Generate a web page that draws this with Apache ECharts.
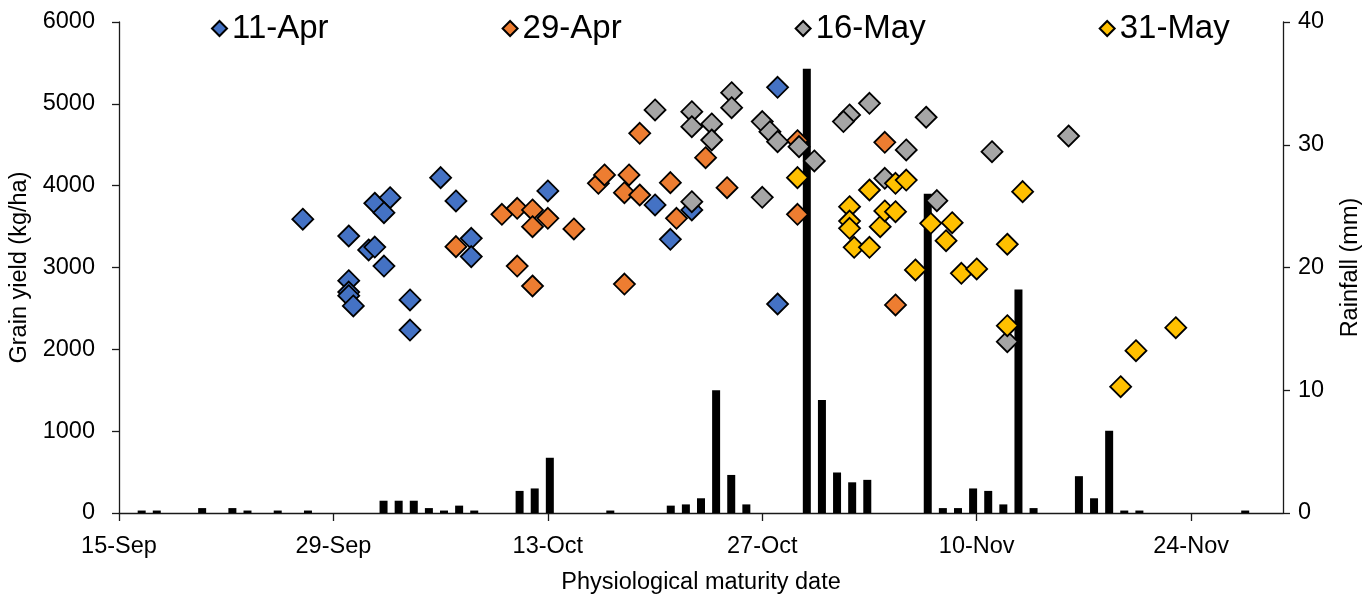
<!DOCTYPE html>
<html>
<head>
<meta charset="utf-8">
<title>Grain yield and rainfall vs physiological maturity date</title>
<script src="https://cdn.jsdelivr.net/npm/echarts@6/dist/echarts.min.js"></script>
<style>
  html, body { margin: 0; padding: 0; background: #fff; }
  #chart { width: 1370px; height: 600px; }
</style>
</head>
<body>
<div id="chart"></div>
<script>
// x values are days after 15-Sep (physiological maturity date)
const START = { month: 8, day: 15 }; // 15-Sep
const MONTHS = ['Jan','Feb','Mar','Apr','May','Jun','Jul','Aug','Sep','Oct','Nov','Dec'];
const X_MAX_DAY = 76;              // 30-Nov
const X_TICKS = [0, 14, 28, 42, 56, 70];

// Sowing 11-Apr
const apr11Day   = [12.0, 15.0, 16.7, 17.7, 17.3, 16.3, 16.7, 17.3, 15.0, 15.0, 15.0, 15.3, 19.0, 19.0, 21.0, 22.0, 23.0, 23.0, 28.0, 35.0, 37.4, 36.0, 43.0, 43.0];
const apr11Yield = [3590, 3385, 3785, 3853, 3670, 3214, 3250, 3018, 2839, 2700, 2655, 2530, 2603, 2236, 4098, 3813, 3357, 3133, 3935, 3764, 3703, 3344, 5202, 2554];

// Sowing 29-Apr
const apr29Day   = [22.0, 25.0, 26.0, 27.0, 28.0, 27.0, 29.7, 26.0, 27.0, 31.3, 31.7, 33.3, 33.0, 34.0, 36.0, 38.3, 39.7, 33.0, 36.4, 34.0, 44.3, 44.3, 50.0, 50.7];
const apr29Yield = [3255, 3650, 3723, 3703, 3601, 3499, 3471, 3018, 2774, 4029, 4131, 4131, 3914, 3886, 4037, 4342, 3975, 2798, 3601, 4640, 4550, 3650, 4530, 2542];

// Sowing 16-May
const may16Day   = [35.0, 37.4, 37.4, 38.7, 38.7, 40.0, 40.0, 42.0, 42.5, 43.0, 44.4, 45.4, 42.0, 37.4, 47.7, 47.3, 49.0, 52.7, 51.4, 57.0, 62.0, 50.0, 53.4, 58.0];
const may16Yield = [4925, 4904, 4721, 4754, 4558, 5136, 4953, 4783, 4660, 4538, 4477, 4302, 3858, 3804, 4864, 4783, 5006, 4836, 4436, 4415, 4607, 4090, 3817, 2094];

// Sowing 31-May
const may31Day   = [44.3, 47.7, 47.7, 47.7, 48.0, 49.0, 49.0, 49.7, 50.0, 50.7, 50.7, 51.4, 52.0, 53.0, 54.0, 54.4, 55.0, 56.0, 58.0, 59.0, 58.0, 65.4, 66.4, 69.0];
const may31Yield = [4098, 3743, 3568, 3479, 3247, 3947, 3247, 3499, 3691, 4029, 3682, 4069, 2970, 3540, 3328, 3548, 2929, 2982, 3284, 3927, 2289, 1544, 1983, 2264];

// Daily rainfall (mm)
const rainDate = ['16-Sep','17-Sep','20-Sep','22-Sep','23-Sep','25-Sep','27-Sep','2-Oct','3-Oct','4-Oct','5-Oct','6-Oct','7-Oct','8-Oct','11-Oct','12-Oct','13-Oct','17-Oct','21-Oct','22-Oct','23-Oct','24-Oct','25-Oct','26-Oct','30-Oct','31-Oct','1-Nov','2-Nov','3-Nov','7-Nov','8-Nov','9-Nov','10-Nov','11-Nov','12-Nov','13-Nov','14-Nov','17-Nov','18-Nov','19-Nov','20-Nov','21-Nov','28-Nov'];
const rainMm   = [0.2, 0.2, 0.4, 0.4, 0.2, 0.2, 0.2, 1.0, 1.0, 1.0, 0.4, 0.2, 0.6, 0.2, 1.8, 2.0, 4.5, 0.2, 0.6, 0.7, 1.2, 10.0, 3.1, 0.7, 36.2, 9.2, 3.3, 2.5, 2.7, 26.0, 0.4, 0.4, 2.0, 1.8, 0.7, 18.2, 0.4, 3.0, 1.2, 6.7, 0.2, 0.2, 0.2];

const FONT = "'Liberation Sans', Arial, sans-serif";
const AXIS_COLOR = '#1a1a1a';

function dayLabel(offset) {
  const d = new Date(2019, START.month, START.day + Math.round(offset));
  return d.getDate() + '-' + MONTHS[d.getMonth()];
}

// one category per calendar day for the rainfall columns
const dayCategories = [];
for (let i = 0; i <= X_MAX_DAY; i++) dayCategories.push(dayLabel(i));

function pairs(xs, ys) { return xs.map((x, i) => [x, ys[i]]); }

function scatterSeries(name, color, xs, ys) {
  return {
    name: name,
    type: 'scatter',
    xAxisIndex: 0,
    yAxisIndex: 0,
    symbol: 'diamond',
    symbolSize: 21,
    z: 5,
    itemStyle: { color: color, borderColor: '#000', borderWidth: 1.8, opacity: 1 },
    data: pairs(xs, ys)
  };
}

const chart = echarts.init(document.getElementById('chart'), null, { renderer: 'canvas' });

chart.setOption({
  animation: false,
  backgroundColor: '#fff',
  textStyle: { fontFamily: FONT },
  grid: { left: 119, right: 87, top: 22, bottom: 87, containLabel: false, outerBoundsMode: 'none' },
  legend: {
    top: 7,
    left: 206,
    itemGap: 173,
    itemWidth: 15,
    itemHeight: 15,
    icon: 'diamond',
    textStyle: { fontSize: 33, color: '#000', fontFamily: FONT },
    data: ['11-Apr', '29-Apr', '16-May', '31-May']
  },
  xAxis: [
    {
      type: 'value',
      min: 0,
      max: X_MAX_DAY,
      interval: 14,
      name: 'Physiological maturity date',
      nameLocation: 'middle',
      nameGap: 58,
      nameMoveOverlap: false,
      nameTextStyle: { fontSize: 23.5, color: '#000', fontFamily: FONT },
      splitLine: { show: false },
      axisLine: { onZero: false, lineStyle: { color: AXIS_COLOR, width: 1.3 } },
      axisTick: { show: true, length: 8, inside: false, customValues: X_TICKS, lineStyle: { color: AXIS_COLOR, width: 1.3 } },
      axisLabel: { customValues: X_TICKS, formatter: v => dayLabel(v), fontSize: 23.5, color: '#000', margin: 22, fontFamily: FONT }
    },
    {
      type: 'category',
      data: dayCategories,
      boundaryGap: true,
      show: false,
      position: 'bottom'
    }
  ],
  yAxis: [
    {
      type: 'value',
      min: 0,
      max: 6000,
      interval: 1000,
      position: 'left',
      name: 'Grain yield (kg/ha)',
      nameLocation: 'middle',
      nameGap: 87,
      nameMoveOverlap: false,
      nameTextStyle: { fontSize: 23.5, color: '#000', fontFamily: FONT },
      splitLine: { show: false },
      axisLine: { show: true, lineStyle: { color: AXIS_COLOR, width: 1.3 } },
      axisTick: { show: true, length: 7, lineStyle: { color: AXIS_COLOR, width: 1.3 } },
      axisLabel: { formatter: v => String(v), fontSize: 23.5, color: '#000', margin: 24, fontFamily: FONT }
    },
    {
      type: 'value',
      min: 0,
      max: 40,
      interval: 10,
      position: 'right',
      name: 'Rainfall (mm)',
      nameLocation: 'middle',
      nameGap: 56,
      nameRotate: 90,
      nameMoveOverlap: false,
      nameTextStyle: { fontSize: 23.5, color: '#000', fontFamily: FONT },
      splitLine: { show: false },
      axisLine: { show: true, lineStyle: { color: AXIS_COLOR, width: 1.3 } },
      axisTick: { show: true, length: 7, lineStyle: { color: AXIS_COLOR, width: 1.3 } },
      axisLabel: { fontSize: 23.5, color: '#000', margin: 15, fontFamily: FONT }
    }
  ],
  series: [
    {
      name: 'Rainfall',
      type: 'bar',
      xAxisIndex: 1,
      yAxisIndex: 1,
      barWidth: 8,
      z: 2,
      itemStyle: { color: '#000' },
      data: rainDate.map((d, i) => [d, rainMm[i]])
    },
    scatterSeries('11-Apr', '#4472C4', apr11Day, apr11Yield),
    scatterSeries('29-Apr', '#ED7D31', apr29Day, apr29Yield),
    scatterSeries('16-May', '#A5A5A5', may16Day, may16Yield),
    scatterSeries('31-May', '#FFC000', may31Day, may31Yield)
  ]
});
</script>
</body>
</html>
